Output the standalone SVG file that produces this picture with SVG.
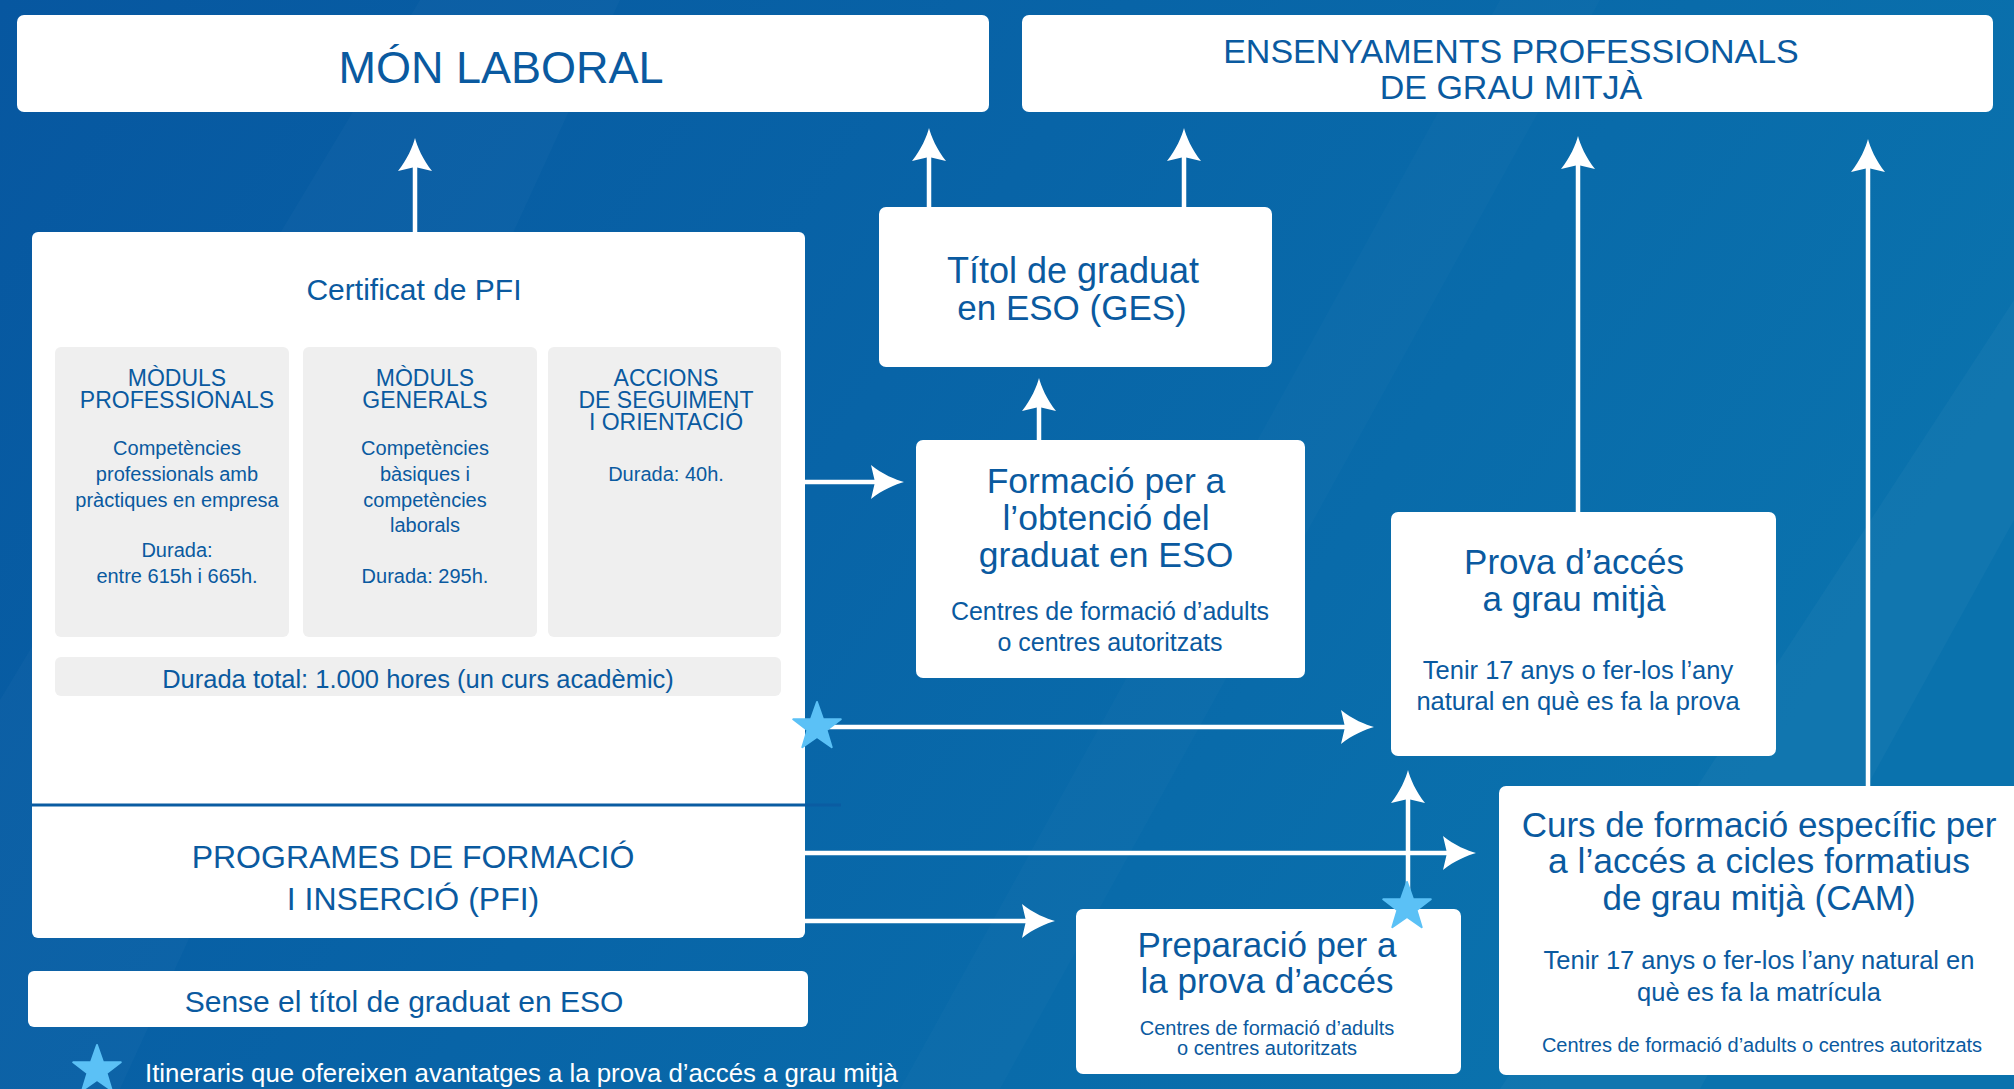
<svg xmlns="http://www.w3.org/2000/svg" width="2014" height="1089" viewBox="0 0 2014 1089">
<defs>
<linearGradient id="bg" x1="0" y1="0" x2="1" y2="0.35">
<stop offset="0" stop-color="#0757a0"/>
<stop offset="0.5" stop-color="#0864a7"/>
<stop offset="1" stop-color="#0a72ad"/>
</linearGradient>
<marker id="ah" markerUnits="userSpaceOnUse" viewBox="-20 -20 44 40" markerWidth="44" markerHeight="40" refX="0" refY="0" orient="auto">
<path d="M20,0 C12,2 -2,8 -13,17 L -9,0 L -13,-17 C -2,-8 12,-2 20,0 Z" fill="#fff"/>
</marker>
<polygon id="star" points="0,-25 5.9,-8.1 23.8,-7.7 9.5,3.1 14.7,20.2 0,10 -14.7,20.2 -9.5,3.1 -23.8,-7.7 -5.9,-8.1" fill="#5bc1f6" stroke="#5bc1f6" stroke-width="2" stroke-linejoin="round"/>
</defs>
<style>
.box{fill:#fff}
.sub{fill:#efefef}
text{font-family:"Liberation Sans",Arial,sans-serif;fill:#0a5aa0;text-anchor:middle}
.hd{font-size:23px}
.conn{stroke:#fff;stroke-width:4.5;fill:none;marker-end:url(#ah)}
</style>
<rect width="2014" height="1089" fill="url(#bg)"/>
<polygon points="0,700 420,0 620,0 120,1089 0,1089" fill="#ffffff" opacity="0.025"/>
<polygon points="1500,1089 2014,300 2014,520 1700,1089" fill="#ffffff" opacity="0.03"/>
<polygon points="900,1089 1500,0 1600,0 1000,1089" fill="#ffffff" opacity="0.02"/>

<g id="mon-laboral">
<rect class="box" x="17" y="15" width="972" height="97" rx="7"/>
<text x="501" y="83" font-size="45">MÓN LABORAL</text>
</g>

<g id="ensenyaments">
<rect class="box" x="1022" y="15" width="971" height="97" rx="7"/>
<text x="1511" y="63" font-size="34">ENSENYAMENTS PROFESSIONALS</text>
<text x="1511" y="99" font-size="34">DE GRAU MITJÀ</text>
</g>

<g id="pfi">
<rect class="box" x="32" y="232" width="773" height="706" rx="6"/>
<text x="414" y="300" font-size="30">Certificat de PFI</text>
<g id="moduls-professionals">
<rect class="sub" x="55" y="347" width="234" height="290" rx="6"/>
<text class="hd" x="177" y="386">MÒDULS</text>
<text class="hd" x="177" y="408">PROFESSIONALS</text>
<text x="177" y="455" font-size="20">Competències</text>
<text x="177" y="481" font-size="20">professionals amb</text>
<text x="177" y="507" font-size="20">pràctiques en empresa</text>
<text x="177" y="557" font-size="20">Durada:</text>
<text x="177" y="583" font-size="20">entre 615h i 665h.</text>
</g>
<g id="moduls-generals">
<rect class="sub" x="303" y="347" width="234" height="290" rx="6"/>
<text class="hd" x="425" y="386">MÒDULS</text>
<text class="hd" x="425" y="408">GENERALS</text>
<text x="425" y="455" font-size="20">Competències</text>
<text x="425" y="481" font-size="20">bàsiques i</text>
<text x="425" y="507" font-size="20">competències</text>
<text x="425" y="532" font-size="20">laborals</text>
<text x="425" y="583" font-size="20">Durada: 295h.</text>
</g>
<g id="accions">
<rect class="sub" x="548" y="347" width="233" height="290" rx="6"/>
<text class="hd" x="666" y="386">ACCIONS</text>
<text class="hd" x="666" y="408">DE SEGUIMENT</text>
<text class="hd" x="666" y="430">I ORIENTACIÓ</text>
<text x="666" y="481" font-size="20">Durada: 40h.</text>
</g>
<g id="durada-total">
<rect class="sub" x="55" y="657" width="726" height="39" rx="6"/>
<text x="418" y="688" font-size="25.5">Durada total: 1.000 hores (un curs acadèmic)</text>
</g>
<line x1="32" y1="805" x2="841" y2="805" stroke="#0a5ca2" stroke-width="3"/>
<text x="413" y="868" font-size="32">PROGRAMES DE FORMACIÓ</text>
<text x="413" y="910" font-size="32">I INSERCIÓ (PFI)</text>
</g>

<g id="sense-titol">
<rect class="box" x="28" y="971" width="780" height="56" rx="6"/>
<text x="404" y="1012" font-size="30">Sense el títol de graduat en ESO</text>
</g>

<g id="titol-ges">
<rect class="box" x="879" y="207" width="393" height="160" rx="7"/>
<text x="1073" y="283" font-size="36">Títol de graduat</text>
<text x="1072" y="320" font-size="35">en ESO (GES)</text>
</g>

<g id="formacio-eso">
<rect class="box" x="916" y="440" width="389" height="238" rx="7"/>
<text x="1106" y="493" font-size="35.5">Formació per a</text>
<text x="1106" y="530" font-size="35.5">l’obtenció del</text>
<text x="1106" y="567" font-size="35.5">graduat en ESO</text>
<text x="1110" y="620" font-size="25">Centres de formació d’adults</text>
<text x="1110" y="651" font-size="25">o centres autoritzats</text>
</g>

<g id="prova-acces">
<rect class="box" x="1391" y="512" width="385" height="244" rx="7"/>
<text x="1574" y="574" font-size="35">Prova d’accés</text>
<text x="1574" y="611" font-size="35">a grau mitjà</text>
<text x="1578" y="679" font-size="25.5">Tenir 17 anys o fer-los l’any</text>
<text x="1578" y="710" font-size="25.5">natural en què es fa la prova</text>
</g>

<g id="preparacio">
<rect class="box" x="1076" y="909" width="385" height="165" rx="7"/>
<text x="1267" y="957" font-size="35">Preparació per a</text>
<text x="1267" y="993" font-size="35">la prova d’accés</text>
<text x="1267" y="1035" font-size="20">Centres de formació d’adults</text>
<text x="1267" y="1055" font-size="20">o centres autoritzats</text>
</g>

<g id="cam">
<rect class="box" x="1499" y="786" width="540" height="289" rx="7"/>
<text x="1759" y="837" font-size="35">Curs de formació específic per</text>
<text x="1759" y="873" font-size="35.5">a l’accés a cicles formatius</text>
<text x="1759" y="910" font-size="35">de grau mitjà (CAM)</text>
<text x="1759" y="969" font-size="25.5">Tenir 17 anys o fer-los l’any natural en</text>
<text x="1759" y="1001" font-size="25.5">què es fa la matrícula</text>
<text x="1762" y="1052" font-size="20">Centres de formació d’adults o centres autoritzats</text>
</g>

<g id="connectors">
<line class="conn" x1="415" y1="232" x2="415" y2="158"/>
<line class="conn" x1="929" y1="207" x2="929" y2="148"/>
<line class="conn" x1="1184" y1="207" x2="1184" y2="148"/>
<line class="conn" x1="1578" y1="512" x2="1578" y2="156"/>
<line class="conn" x1="1868" y1="786" x2="1868" y2="159"/>
<line class="conn" x1="1039" y1="440" x2="1039" y2="398"/>
<line class="conn" x1="805" y1="482" x2="884" y2="482"/>
<line class="conn" x1="817" y1="727" x2="1354" y2="727"/>
<line class="conn" x1="805" y1="853" x2="1456" y2="853"/>
<line class="conn" x1="805" y1="921" x2="1035" y2="921"/>
<line class="conn" x1="1408" y1="907" x2="1408" y2="790"/>
</g>

<g id="stars">
<use href="#star" x="817" y="727"/>
<use href="#star" x="1407" y="907"/>
</g>

<g id="legend">
<use href="#star" x="97" y="1070"/>
<text x="145" y="1082" font-size="25.8" style="fill:#fff;text-anchor:start">Itineraris que ofereixen avantatges a la prova d’accés a grau mitjà</text>
</g>
</svg>
